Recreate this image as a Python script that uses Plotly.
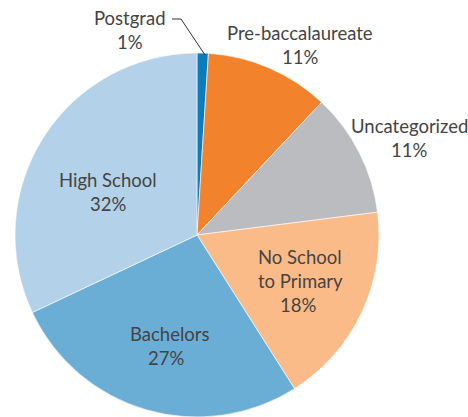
import plotly.graph_objects as go

W, H = 468, 417

categories = ["Postgrad", "Pre-baccalaureate", "Uncategorized", "No School to Primary", "Bachelors", "High School"]
values = [1, 11, 11, 18, 27, 32]
colors = ["#0b7dbf", "#f3822d", "#bbbcc0", "#fbbb89", "#6aaed6", "#b3d2e9"]
label_lines = [["Postgrad"], ["Pre-baccalaureate"], ["Uncategorized"], ["No School", "to Primary"], ["Bachelors"], ["High School"]]

# label anchor positions in pixels (x center, y center of first line) and per-line tweaks
label_pos = [(130, 18), (300, 33), (409, 126), (300, 257), (169, 334), (108, 180)]
pct_dx = [0, 0, 0, -2, -3, 0]
line_gap = 24

fig = go.Figure()
fig.add_trace(go.Pie(
    labels=categories,
    values=values,
    sort=False,
    direction="clockwise",
    rotation=0,
    marker=dict(colors=colors, line=dict(color="white", width=0.6)),
    textinfo="none",
    hoverinfo="label+percent",
    showlegend=False,
    domain=dict(x=[15 / W, 379 / W], y=[0, 364 / H]),
))

def px(x):
    return x / W

def py(y):
    return 1 - y / H

font = dict(family="Lato, 'Open Sans', sans-serif", size=18.5, color="#444444")
for lines, (x, y), v, dx in zip(label_lines, label_pos, values, pct_dx):
    for i, t in enumerate(lines):
        fig.add_annotation(x=px(x), y=py(y + i * line_gap), xref="paper", yref="paper",
                           text=t, showarrow=False, font=font, xanchor="center", yanchor="middle")
    fig.add_annotation(x=px(x + dx), y=py(y + len(lines) * line_gap), xref="paper", yref="paper",
                       text=f"{v}%", showarrow=False, font=font, xanchor="center", yanchor="middle")

# leader line for Postgrad
fig.add_shape(type="path", xref="paper", yref="paper",
              path=f"M {px(172)} {py(19)} L {px(181)} {py(19)} L {px(205)} {py(55)}",
              line=dict(color="#333333", width=1))

fig.update_layout(width=W, height=H, margin=dict(l=0, r=0, t=0, b=0),
                  paper_bgcolor="white", plot_bgcolor="white")
fig.write_html("out.html", config={"displayModeBar": False},
               post_script="document.body.style.margin='0';")
